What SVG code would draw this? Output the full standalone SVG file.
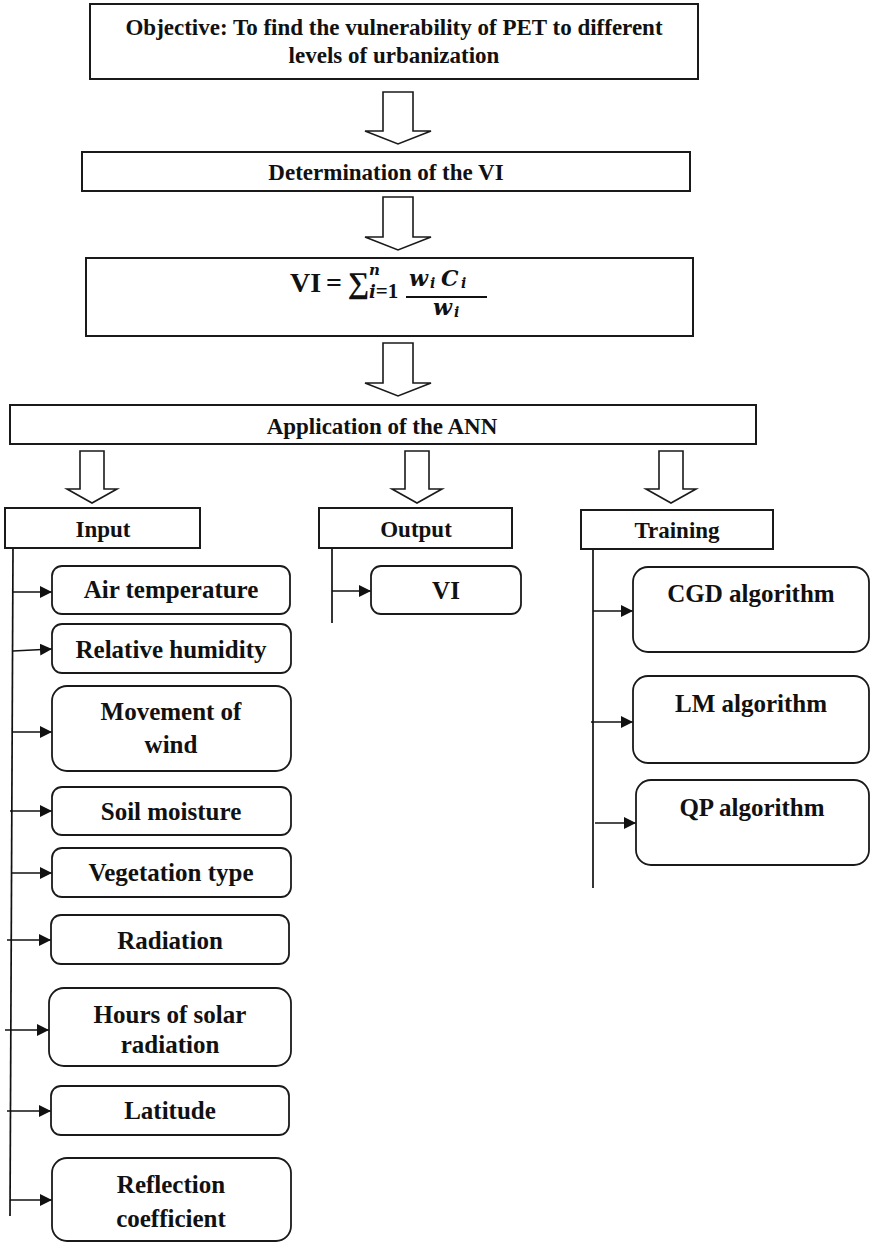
<svg xmlns="http://www.w3.org/2000/svg" width="871" height="1243" viewBox="0 0 871 1243">
  <style>
    .box { fill: #fff; stroke: #1a1a1a; stroke-width: 2; }
    .rbox { fill: #fff; stroke: #1a1a1a; stroke-width: 1.8; }
    .bigarrow { fill: #fff; stroke: #1a1a1a; stroke-width: 1.6; stroke-linejoin: miter; }
    .link { fill: none; stroke: #111; stroke-width: 1.7; }
    .h { font-family: "Liberation Serif", "Times New Roman", serif; font-weight: bold; font-size: 23px; fill: #111; text-anchor: middle; }
    .t { font-family: "Liberation Serif", "Times New Roman", serif; font-weight: bold; font-size: 25px; fill: #111; text-anchor: middle; }
    .up { font-family: "Liberation Serif", "Times New Roman", serif; font-weight: bold; fill: #111; }
    .m { font-family: "DejaVu Serif", "Liberation Serif", serif; font-weight: bold; font-style: italic; fill: #111; }
  </style>
  <defs>
    <marker id="tip" markerUnits="userSpaceOnUse" markerWidth="13" markerHeight="13" refX="12" refY="6" orient="auto">
      <path d="M0,0 L12,6 L0,12 Z" fill="#111"/>
    </marker>
  </defs>

  <rect width="871" height="1243" fill="#fff"/>

  <!-- block arrows between the stages -->
  <g id="flow-arrows">
    <path class="bigarrow" d="M383,92 H413 V131 H431 L398,144 L365,131 H383 Z"/>
    <path class="bigarrow" d="M383,197 H413 V237 H431 L398,250 L365,237 H383 Z"/>
    <path class="bigarrow" d="M383,343 H413 V383 H431 L398,396 L365,383 H383 Z"/>
    <path class="bigarrow" d="M80,451 H104 V489 H117 L92,503 L67,489 H80 Z"/>
    <path class="bigarrow" d="M405,451 H429 V489 H442 L417,503 L392,489 H405 Z"/>
    <path class="bigarrow" d="M659,451 H683 V489 H696 L671,503 L646,489 H659 Z"/>
  </g>

  <!-- tree lines and arrows to the leaves -->
  <g id="connectors">
    <path class="link" d="M13,548 L10,1216"/>
    <path class="link" d="M332,548 V623"/>
    <path class="link" d="M593,549 V888"/>

    <path class="link" d="M13,592 H52" marker-end="url(#tip)"/>
    <path class="link" d="M13,651 L52,649" marker-end="url(#tip)"/>
    <path class="link" d="M12,732 H52" marker-end="url(#tip)"/>
    <path class="link" d="M10,811 H52" marker-end="url(#tip)"/>
    <path class="link" d="M12,873 H52" marker-end="url(#tip)"/>
    <path class="link" d="M7,940 H51" marker-end="url(#tip)"/>
    <path class="link" d="M5,1030 H49" marker-end="url(#tip)"/>
    <path class="link" d="M7,1111 H51" marker-end="url(#tip)"/>
    <path class="link" d="M10,1200 H52" marker-end="url(#tip)"/>

    <path class="link" d="M332,591 H371" marker-end="url(#tip)"/>

    <path class="link" d="M593,611 H633" marker-end="url(#tip)"/>
    <path class="link" d="M591,722 H633" marker-end="url(#tip)"/>
    <path class="link" d="M595,823 H636" marker-end="url(#tip)"/>
  </g>

  <g id="objective">
    <rect class="box" x="90" y="4" width="608" height="75"/>
    <text class="h" x="394" y="35">Objective: To find the vulnerability of PET to different</text>
    <text class="h" x="394" y="63">levels of urbanization</text>
  </g>

  <g id="determination">
    <rect class="box" x="82" y="152" width="608" height="39"/>
    <text class="h" x="386" y="180">Determination of the VI</text>
  </g>

  <!-- VI = sum over i of (w_i C_i) / w_i -->
  <g id="formula">
    <rect class="box" x="86" y="258" width="607" height="78"/>
    <text class="up" x="290" y="292" font-size="28">VI</text>
    <text class="up" x="326" y="292" font-size="28">=</text>
    <text class="up" x="348" y="293" font-size="30" font-family="DejaVu Serif, serif">∑</text>
    <text class="m" x="369" y="275" font-size="15">n</text>
    <text x="369" y="298" font-size="18"><tspan class="m">i</tspan><tspan class="up" font-size="21">=1</tspan></text>
    <text class="m" font-size="22" y="286"><tspan x="409">w</tspan><tspan x="430" dy="2" font-size="14">i</tspan><tspan x="441" dy="-2">C</tspan><tspan x="461" dy="2" font-size="14">i</tspan></text>
    <line x1="406" y1="297" x2="487" y2="297" stroke="#111" stroke-width="2"/>
    <text class="m" font-size="22" y="315"><tspan x="433">w</tspan><tspan x="454" dy="2" font-size="14">i</tspan></text>
  </g>

  <g id="application">
    <rect class="box" x="10" y="405" width="746" height="39"/>
    <text class="h" x="382" y="434">Application of the ANN</text>
  </g>

  <g id="input">
    <rect class="box" x="5" y="508" width="195" height="40"/>
    <text class="h" x="103" y="537">Input</text>
  </g>
  <g id="output">
    <rect class="box" x="319" y="508" width="193" height="40"/>
    <text class="h" x="416" y="537">Output</text>
  </g>
  <g id="training">
    <rect class="box" x="581" y="510" width="192" height="39"/>
    <text class="h" x="677" y="538">Training</text>
  </g>

  <g id="air-temperature">
    <rect class="rbox" x="52" y="566" width="238" height="48" rx="10"/>
    <text class="t" x="171" y="598">Air temperature</text>
  </g>
  <g id="relative-humidity">
    <rect class="rbox" x="52" y="624" width="239" height="49" rx="10"/>
    <text class="t" x="171" y="658">Relative humidity</text>
  </g>
  <g id="movement-of-wind">
    <rect class="rbox" x="52" y="686" width="239" height="85" rx="15"/>
    <text class="t" x="171" y="720">Movement of</text>
    <text class="t" x="171" y="753">wind</text>
  </g>
  <g id="soil-moisture">
    <rect class="rbox" x="52" y="787" width="239" height="48" rx="10"/>
    <text class="t" x="171" y="820">Soil moisture</text>
  </g>
  <g id="vegetation-type">
    <rect class="rbox" x="52" y="848" width="239" height="49" rx="10"/>
    <text class="t" x="171" y="881">Vegetation type</text>
  </g>
  <g id="radiation">
    <rect class="rbox" x="51" y="915" width="238" height="49" rx="10"/>
    <text class="t" x="170" y="949">Radiation</text>
  </g>
  <g id="hours-of-solar-radiation">
    <rect class="rbox" x="49" y="988" width="242" height="78" rx="15"/>
    <text class="t" x="170" y="1023">Hours of solar</text>
    <text class="t" x="170" y="1053">radiation</text>
  </g>
  <g id="latitude">
    <rect class="rbox" x="51" y="1086" width="238" height="49" rx="10"/>
    <text class="t" x="170" y="1119">Latitude</text>
  </g>
  <g id="reflection-coefficient">
    <rect class="rbox" x="52" y="1158" width="239" height="83" rx="15"/>
    <text class="t" x="171" y="1193">Reflection</text>
    <text class="t" x="171" y="1227">coefficient</text>
  </g>

  <g id="vi">
    <rect class="rbox" x="371" y="566" width="150" height="48" rx="10"/>
    <text class="t" x="446" y="599">VI</text>
  </g>

  <g id="cgd-algorithm">
    <rect class="rbox" x="633" y="567" width="236" height="85" rx="15"/>
    <text class="t" x="751" y="602">CGD algorithm</text>
  </g>
  <g id="lm-algorithm">
    <rect class="rbox" x="633" y="676" width="236" height="87" rx="15"/>
    <text class="t" x="751" y="712">LM algorithm</text>
  </g>
  <g id="qp-algorithm">
    <rect class="rbox" x="636" y="780" width="233" height="85" rx="15"/>
    <text class="t" x="752" y="816">QP algorithm</text>
  </g>
</svg>
